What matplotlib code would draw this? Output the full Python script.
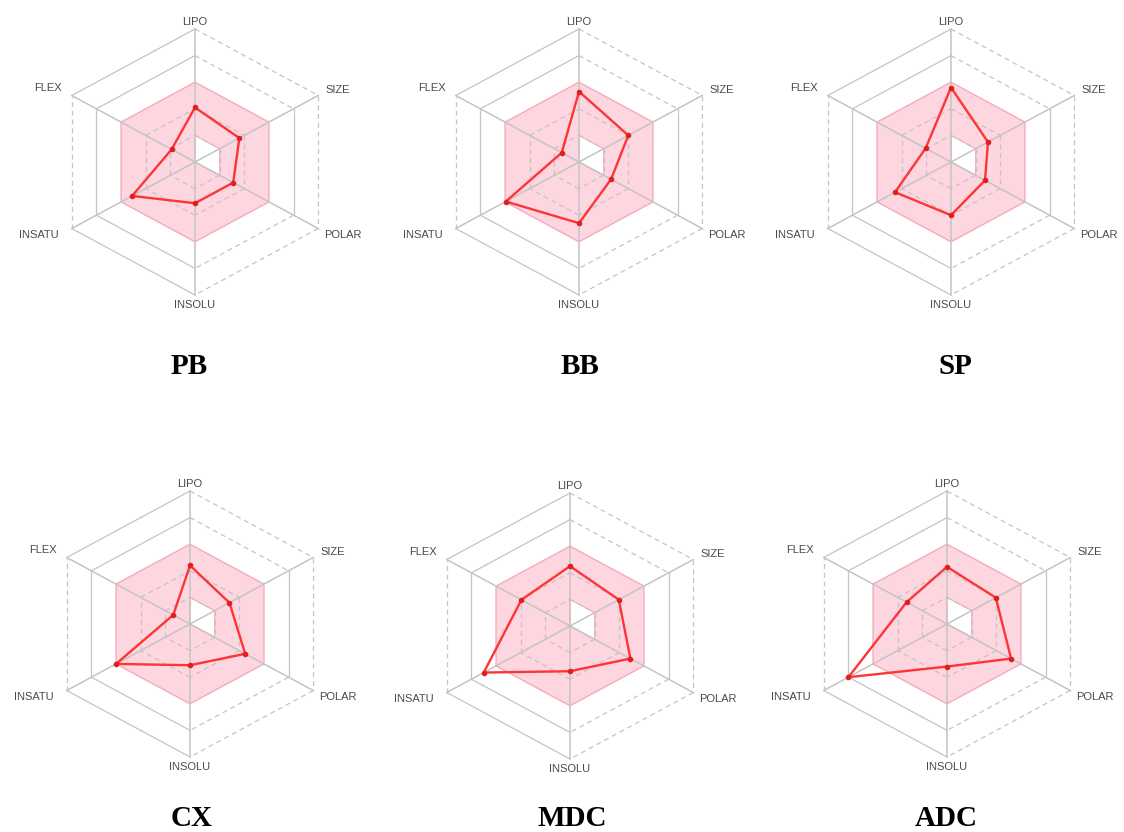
import numpy as np
import matplotlib
matplotlib.use("Agg")
import matplotlib.pyplot as plt

# Bioavailability radar properties (clockwise from top)
axes_labels = ["LIPO", "SIZE", "POLAR", "INSOLU", "INSATU", "FLEX"]

compounds = ["PB", "BB", "SP", "CX", "MDC", "ADC"]

# Scores on the 0-5 radar scale, same order as axes_labels
pb_values = [2.05, 1.8, 1.55, 1.55, 2.55, 0.95]
bb_values = [2.65, 2.0, 1.3, 2.3, 2.97, 0.7]
sp_values = [2.8, 1.5, 1.38, 2.0, 2.27, 1.03]
cx_values = [2.2, 1.6, 2.24, 1.55, 3.0, 0.68]
mdc_values = [2.25, 1.98, 2.45, 1.7, 3.5, 1.97]
adc_values = [2.15, 1.98, 2.6, 1.6, 4.0, 1.64]

all_values = [pb_values, bb_values, sp_values, cx_values, mdc_values, adc_values]

# Optimal property window: inner and outer radius on each axis
optimal_inner = [1, 1, 1, 0, 0, 0]
optimal_outer = [3, 3, 3, 3, 3, 3]

# Grid ring styles per edge (edge k joins axis k and axis k+1)
ring_styles = {
    5: ["--", "--", "--", "-", "--", "-"],
    4: ["--", "-", "--", "-", "-", "-"],
    2: ["--"] * 6,
    1: ["--"] * 6,
}

W, H = 1124, 832
centers = [(195, 162), (579, 162), (951, 162),
           (190, 624), (570, 626), (947, 624)]
title_pos = [(189, 367), (580, 367), (955, 367),
             (192, 819), (572, 819), (946, 819)]

PX_Y = 26.6          # pixels per radar unit, vertical
PX_X = 26.6 * 1.07   # pixels per radar unit, horizontal

angles = np.deg2rad([90, 30, -30, -90, -150, 150])
ux, uy = np.cos(angles), np.sin(angles)

label_xy = [(0, 5.25), (5.02, 2.7), (5.19, -2.74),
            (0, -5.38), (-5.5, -2.74), (-5.16, 2.78)]

grid_color = "#c4c4c4"
fill_color = "#fdd6e0"
fill_edge = "#f4abbb"
line_color = "#ff3434"

plt.rcParams["font.family"] = ["Liberation Sans", "DejaVu Sans"]
fig = plt.figure(figsize=(W / 100, H / 100), dpi=100)


def to_xy(r):
    r = np.asarray(r, dtype=float)
    return r * ux, r * uy


for (cx, cy), name, vals, (tx, ty) in zip(centers, compounds, all_values, title_pos):
    bw, bh = 360, 340
    ax = fig.add_axes([(cx - bw / 2) / W, (H - cy - bh / 2) / H, bw / W, bh / H])
    ax.set_xlim(-bw / 2 / PX_X, bw / 2 / PX_X)
    ax.set_ylim(-bh / 2 / PX_Y, bh / 2 / PX_Y)
    ax.axis("off")
    ax.patch.set_alpha(0)

    # optimal window
    ox, oy = to_xy(optimal_outer)
    ax.fill(ox, oy, color=fill_color, zorder=1, lw=0)
    ix, iy = to_xy(optimal_inner)
    ax.fill(ix, iy, color="white", zorder=1.5, lw=0)
    ax.plot(np.append(ox, ox[0]), np.append(oy, oy[0]), color=fill_edge, lw=1.0, zorder=2)
    ax.plot(np.append(ix, ix[0]), np.append(iy, iy[0]), color=fill_edge, lw=0.8, zorder=2)

    # grid rings
    for r, styles in ring_styles.items():
        gx, gy = to_xy([r] * 6)
        for k in range(6):
            j = (k + 1) % 6
            ax.plot([gx[k], gx[j]], [gy[k], gy[j]], color=grid_color,
                    lw=0.9, ls=styles[k], dashes=(4, 3) if styles[k] == "--" else (None, None),
                    zorder=2)

    # spokes
    for k in range(6):
        ax.plot([0, 5 * ux[k]], [0, 5 * uy[k]], color=grid_color, lw=1.1, zorder=2)

    # axis labels
    for (lx, ly), lab in zip(label_xy, axes_labels):
        ax.text(lx, ly, lab, ha="center", va="center", fontsize=8,
                color="#4a4a4a")

    # compound profile
    px, py = to_xy(vals)
    ax.plot(np.append(px, px[0]), np.append(py, py[0]), color=line_color,
            lw=1.7, zorder=4)
    ax.plot(px, py, "o", color="#e02020", ms=3, zorder=5)

    fig.text(tx / W, 1 - ty / H, name, ha="center", va="center",
             fontsize=21, fontweight="bold", family=["Liberation Serif", "DejaVu Serif"])

fig.savefig("out.png", dpi=100, facecolor="white")
